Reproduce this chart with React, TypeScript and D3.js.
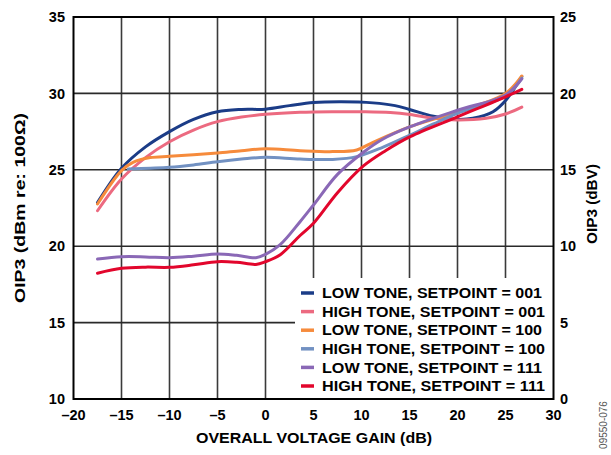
import React from "react";
import * as d3 from "d3";

const xTicks = [-20, -15, -10, -5, 0, 5, 10, 15, 20, 25, 30];
const yLeftTicks = [10, 15, 20, 25, 30, 35];
const yRightTicks = [0, 5, 10, 15, 20, 25];

const seriesNames = [
  "LOW TONE, SETPOINT = 001",
  "HIGH TONE, SETPOINT = 001",
  "LOW TONE, SETPOINT = 100",
  "HIGH TONE, SETPOINT = 100",
  "LOW TONE, SETPOINT = 111",
  "HIGH TONE, SETPOINT = 111",
];
const seriesColors = ["#1B3C87", "#EC6A80", "#F68B3C", "#7291C2", "#8A68B6", "#E2062C"];

const lowTone001: [number, number][] = [
  [-17.5, 22.85], [-15, 25.1], [-12.5, 26.5], [-10, 27.5], [-7.5, 28.3], [-5, 28.8], [-2.5, 28.95], [0, 28.97],
  [2.5, 29.2], [5, 29.4], [7.9, 29.45], [11.2, 29.38], [13.5, 29.2], [15, 28.95], [17.5, 28.5], [20, 28.3],
  [21.6, 28.37], [23.7, 28.8], [25.1, 29.6], [26.7, 31.1],
];
const highTone001: [number, number][] = [
  [-17.5, 22.32], [-15, 24.4], [-12.5, 25.8], [-10, 26.84], [-7.5, 27.6], [-5, 28.15], [-2.5, 28.45], [0, 28.63],
  [3.6, 28.76], [7, 28.8], [10.2, 28.8], [13, 28.75], [15.07, 28.62], [17.5, 28.37], [20, 28.26], [23, 28.37],
  [25, 28.65], [26.7, 29.1],
];
const lowTone100: [number, number][] = [
  [-17.5, 22.76], [-15, 24.95], [-13.8, 25.49], [-12, 25.8], [-10, 25.88], [-7.5, 25.98], [-5, 26.1], [-2.5, 26.25],
  [0, 26.38], [3.6, 26.25], [7, 26.19], [9.5, 26.3], [11.2, 26.8], [15.07, 27.82], [20, 28.8], [25, 30.0],
  [26.7, 31.14],
];
const highTone100: [number, number][] = [
  [-14.3, 25.05], [-12, 25.1], [-10, 25.16], [-7.5, 25.32], [-5, 25.53], [-2.5, 25.7], [0, 25.82], [3.6, 25.7],
  [7, 25.68], [9.5, 25.86], [12.2, 26.47], [15.07, 27.28], [17.5, 28.0], [20, 28.7], [25, 29.83], [26.7, 31.0],
];
const lowTone111: [number, number][] = [
  [-17.5, 19.16], [-15, 19.31], [-12.5, 19.3], [-10, 19.25], [-7.5, 19.35], [-5, 19.49], [-3, 19.4], [-1, 19.25],
  [0, 19.47], [1.5, 20.08], [3.6, 21.6], [5, 22.7], [7.5, 24.7], [10.2, 26.15], [12.2, 27.0], [15.07, 27.82],
  [20, 28.9], [25, 29.9], [26.7, 30.95],
];
const highTone111: [number, number][] = [
  [-17.5, 18.23], [-15, 18.55], [-12.5, 18.63], [-10, 18.62], [-7.5, 18.78], [-5, 18.99], [-3, 18.95], [-1, 18.81],
  [0, 18.99], [1.5, 19.42], [3.6, 20.7], [5, 21.5], [7.5, 23.5], [10.2, 25.25], [12.5, 26.25], [15.07, 27.17],
  [20, 28.47], [25, 29.78], [26.7, 30.27],
];
const seriesData = [lowTone001, highTone001, lowTone100, highTone100, lowTone111, highTone111];

const W = 611;
const H = 455;
const left = 73.5;
const right = 553.5;
const top = 17;
const bottom = 399;

export default function App() {
  const x = d3.scaleLinear().domain([-20, 30]).range([left, right]);
  const yL = d3.scaleLinear().domain([10, 35]).range([bottom, top]);
  const yR = d3.scaleLinear().domain([0, 25]).range([bottom, top]);
  const line = d3
    .line<[number, number]>()
    .x((d) => x(d[0]))
    .y((d) => yL(d[1]))
    .curve(d3.curveCatmullRom.alpha(0.5));

  const font = "'Liberation Sans', Arial, sans-serif";
  const legendX = 295;
  const legendY = 278;

  return (
    <svg
      width={W}
      height={H}
      style={{ position: "absolute", left: 0, top: 0, background: "#fff" }}
      fontFamily={font}
    >
      <rect x={0} y={0} width={W} height={H} fill="#fff" />
      {/* grid */}
      {xTicks.slice(1, -1).map((t) => (
        <line key={"gx" + t} x1={x(t)} x2={x(t)} y1={top} y2={bottom} stroke="#3a3a3a" strokeWidth={1.6} />
      ))}
      {yLeftTicks.slice(1, -1).map((t) => (
        <line key={"gy" + t} x1={left} x2={right} y1={yL(t)} y2={yL(t)} stroke="#2a2a2a" strokeWidth={1.6} />
      ))}
      {/* legend background */}
      <rect x={legendX} y={legendY} width={right - legendX} height={bottom - legendY} fill="#fff" />
      {/* series */}
      {seriesData.map((d, i) => (
        <path key={"s" + i} d={line(d) || ""} fill="none" stroke={seriesColors[i]} strokeWidth={3} strokeLinejoin="round" strokeLinecap="round" />
      ))}
      {/* frame */}
      <rect x={left} y={top} width={right - left} height={bottom - top} fill="none" stroke="#000" strokeWidth={2} />
      {/* left ticks */}
      {yLeftTicks.map((t) => (
        <text key={"yl" + t} x={65} y={yL(t)} dy="0.36em" textAnchor="end" fontSize={14.5} fontWeight="bold">
          {t}
        </text>
      ))}
      {yRightTicks.map((t) => (
        <text key={"yr" + t} x={560} y={yR(t)} dy="0.36em" textAnchor="start" fontSize={14.5} fontWeight="bold">
          {t}
        </text>
      ))}
      {xTicks.map((t) => (
        <text key={"xt" + t} x={x(t)} y={420} textAnchor="middle" fontSize={14.5} fontWeight="bold">
          {t < 0 ? "\u2013" + Math.abs(t) : String(t)}
        </text>
      ))}
      {/* titles */}
      <text x={314} y={443} textAnchor="middle" fontSize={14.5} fontWeight="bold" textLength={236} lengthAdjust="spacingAndGlyphs">
        OVERALL VOLTAGE GAIN (dB)
      </text>
      <text transform={`translate(25,208) rotate(-90)`} textAnchor="middle" fontSize={14.5} fontWeight="bold" textLength={190} lengthAdjust="spacingAndGlyphs">
        OIP3 (dBm re: 100Ω)
      </text>
      <text transform={`translate(597,204) rotate(-90)`} textAnchor="middle" fontSize={14.5} fontWeight="bold" textLength={80} lengthAdjust="spacingAndGlyphs">
        OIP3 (dBV)
      </text>
      <text transform={`translate(607,425) rotate(-90)`} textAnchor="middle" fontSize={10} fill="#555">
        09550-076
      </text>
      {/* legend */}
      {seriesNames.map((n, i) => {
        const yy = 293 + i * 18.6;
        const len = n.startsWith("HIGH") ? 223 : 220;
        return (
          <g key={"lg" + i}>
            <line x1={301} x2={314} y1={yy} y2={yy} stroke={seriesColors[i]} strokeWidth={3.5} />
            <text x={322} y={yy} dy="0.36em" fontSize={14.5} fontWeight="bold" textLength={len} lengthAdjust="spacingAndGlyphs">
              {n}
            </text>
          </g>
        );
      })}
    </svg>
  );
}
